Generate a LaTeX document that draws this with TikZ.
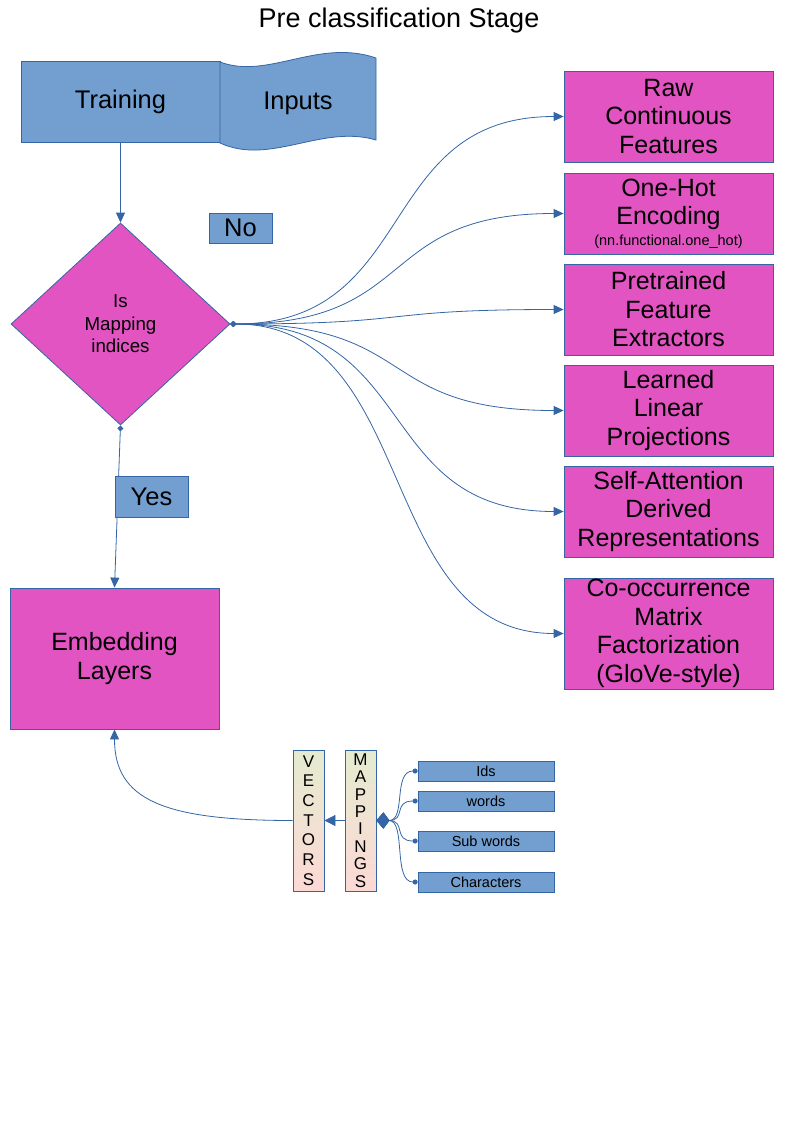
\documentclass[tikz,border=0pt]{standalone}
\usepackage{fontspec}
\setmainfont{Liberation Sans}
\usepackage{tikz}
\usetikzlibrary{shapes.geometric,arrows.meta}
\usepackage{xcolor}

\definecolor{boxblue}{HTML}{729FCF}
\definecolor{lineblue}{HTML}{3465A4}
\definecolor{boxpink}{HTML}{E254C2}
\definecolor{gradtop}{HTML}{E5EBD0}
\definecolor{gradbot}{HTML}{FCD9D5}

\tikzset{
    bluebox/.style={draw=lineblue, fill=boxblue, inner sep=0pt, align=center, font=\fontsize{25.5bp}{28.5bp}\selectfont},
    pinkbox/.style={draw=lineblue, fill=boxpink, inner sep=0pt, align=center, minimum width=209bp, font=\fontsize{25bp}{28.5bp}\selectfont},
    decbox/.style={diamond, draw=lineblue, fill=boxpink, inner sep=0pt, align=center, minimum width=219bp, minimum height=202bp, font=\fontsize{18.7bp}{22.5bp}\selectfont},
    stripbox/.style={draw=lineblue, top color=gradtop, bottom color=gradbot, inner sep=0pt, align=center, minimum width=31bp, minimum height=141bp},
    smallbox/.style={draw=lineblue, fill=boxblue, inner sep=0pt, minimum width=136bp, minimum height=20bp, font=\fontsize{14.5bp}{16bp}\selectfont},
    conn/.style={draw=lineblue, -{Triangle[length=10bp,width=9bp]}}
}

\begin{document}
\begin{tikzpicture}[x=1bp, y=-1bp, line width=0.8bp]
    \useasboundingbox (0,0) rectangle (794,1123);

    % Title
    \node[font=\fontsize{27bp}{30bp}\selectfont] (title) at (399,21) {Pre classification Stage};

    % Training box and tape
    \node[bluebox, minimum width=199bp, minimum height=81bp] (train) at (120.5,101.5) {Training};
    \draw[draw=lineblue, fill=boxblue] (220,62) .. controls (268,80) and (318,38) .. (376,58)
        -- (376,140) .. controls (322,124) and (270,166) .. (220,143) -- cycle;
    \node[font=\fontsize{25.5bp}{28.5bp}\selectfont] (inputs) at (298,103) {Inputs};

    % Decision
    \node[decbox] (dec) at (120.5,324) {Is\\Mapping\\indices};
    \node[bluebox, minimum width=63bp, minimum height=30bp] (no) at (240.5,228) {No};

    % Right hand boxes
    \node[pinkbox, minimum height=91bp] (raw) at (668.5,116.5) {Raw\\Continuous\\Features};
    \node[pinkbox, minimum height=81bp] (onehot) at (668.5,213.5) {One-Hot\\Encoding\\[-8bp]{\fontsize{14.5bp}{16bp}\selectfont (nn.functional.one\_hot)}};
    \node[pinkbox, minimum height=91bp] (pretrain) at (668.5,309.5) {Pretrained\\Feature\\Extractors};
    \node[pinkbox, minimum height=91bp] (learned) at (668.5,410.5) {Learned\\Linear\\Projections};
    \node[pinkbox, minimum height=91bp] (selfatt) at (668.5,511.5) {Self-Attention\\Derived\\Representations};
    \node[pinkbox, minimum height=111bp] (cooc) at (668.5,633.5) {Co-occurrence\\Matrix\\Factorization\\(GloVe-style)};

    % Embedding
    \node[pinkbox, minimum height=141bp] (embed) at (114.5,658.5) {Embedding\\Layers};

    % Vectors and mappings
    \node[stripbox, font=\fontsize{17bp}{19.7bp}\selectfont] (vec) at (308.5,820.5) {V\\E\\C\\T\\O\\R\\S};
    \node[stripbox, font=\fontsize{17bp}{17.4bp}\selectfont] (map) at (360.5,820.5) {M\\A\\P\\P\\I\\N\\G\\S};

    \node[smallbox] (ids) at (486,771) {Ids};
    \node[smallbox] (words) at (486,801) {words};
    \node[smallbox] (subw) at (486,841) {Sub words};
    \node[smallbox] (chars) at (486,882) {Characters};

    % Connectors
    \draw[conn] (train.south) -- (dec.north);
    \foreach \n in {raw,onehot,pretrain,learned,selfatt,cooc}
        \draw[conn, {Diamond[length=6bp,width=6bp]}-{Triangle[length=10bp,width=9bp]}]
            (dec.east) .. controls +(190,0) and +(-190,0) .. (\n.west);
    \draw[conn, {Diamond[length=6bp,width=6bp]}-{Triangle[length=10bp,width=9bp]}] (dec.south) -- (embed.north);
    \node[bluebox, minimum width=73bp, minimum height=41bp] (yes) at (151.5,496.5) {Yes};

    \draw[conn] (vec.west) .. controls +(-130,0) and +(0,70) .. (embed.south);
    \draw[conn, -{Triangle[length=11bp,width=11bp]}] (map.west) -- (vec.east);
    \foreach \n in {ids,words,subw,chars}
        \draw[conn, {Circle[length=5bp]}-{Kite[length=13bp,width=16bp,inset=6bp]}]
            (\n.west) .. controls +(-25,0) and +(30,0) .. (map.east);
\end{tikzpicture}
\end{document}
